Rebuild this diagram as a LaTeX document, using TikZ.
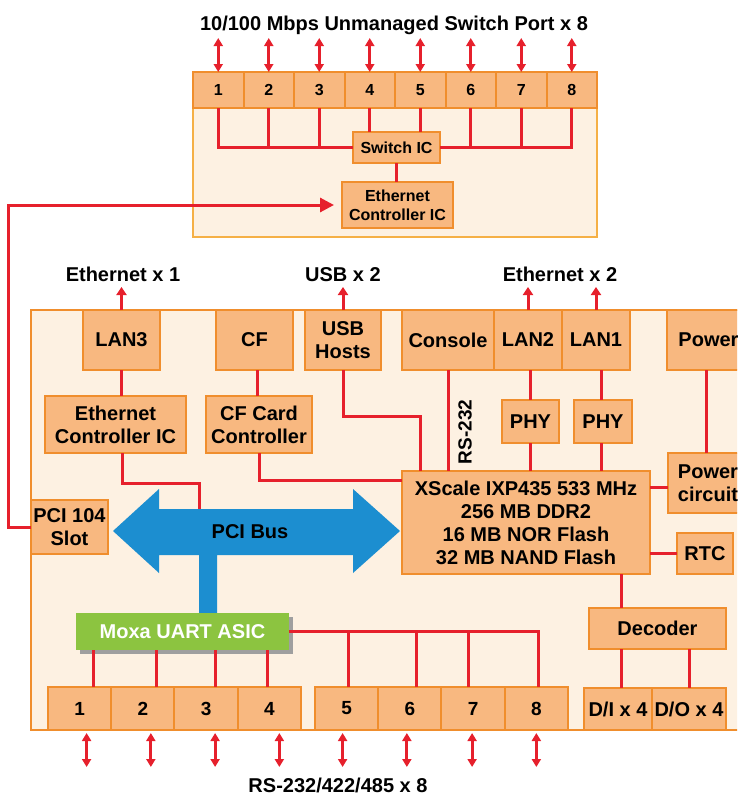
\documentclass[tikz,border=0pt]{standalone}
\usepackage{fontspec}
\setmainfont{Liberation Sans}
\usepackage{xcolor}
\usepackage{tikz}
\usetikzlibrary{arrows.meta,positioning,shadows}

\definecolor{boxfill}{RGB}{248,184,128}
\definecolor{boxline}{RGB}{240,142,45}
\definecolor{boardfill}{RGB}{253,241,226}
\definecolor{wirered}{RGB}{230,32,44}
\definecolor{busblue}{RGB}{28,142,208}
\definecolor{asicgreen}{RGB}{140,196,64}

\newcommand{\bfont}{\fontsize{20}{23}\selectfont\bfseries}
\newcommand{\sfont}{\fontsize{16}{19}\selectfont\bfseries}

\begin{document}
\begin{tikzpicture}[x=1pt, y=-1pt,
  box/.style={draw=boxline, fill=boxfill, line width=2pt, align=center, font=\bfont, inner sep=1pt, outer sep=0pt, minimum height=60pt},
  port/.style={box, font=\sfont, minimum width=50.5pt, minimum height=36pt},
  sport/.style={box, font=\fontsize{19}{22}\selectfont\bfseries, minimum width=63.25pt, minimum height=43pt},
  lbl/.style={font=\bfont, inner sep=0pt},
  asic/.style={font=\bfont, text=white, fill=asicgreen, minimum width=213pt, minimum height=37pt, outer sep=0pt,
    drop shadow={shadow xshift=4pt, shadow yshift=-4pt, fill=gray!75, opacity=1}},
  wire/.style={draw=wirered, line width=3pt},
  arr/.style={wire, -{Triangle[length=8pt,width=10pt]}},
  dbl/.style={wire, {Triangle[length=8pt,width=9pt]}-{Triangle[length=8pt,width=9pt]}}]
\useasboundingbox (0,0) rectangle (737,798);
\clip (0,0) rectangle (737,798);

% switch module
\draw[draw={rgb,255:red,245;green,176;blue,70}, fill=boardfill, line width=1.6pt] (193,72) rectangle (597,237);
\node[lbl, anchor=base] (swtitle) at (394,30) {10/100 Mbps Unmanaged Switch Port x 8};
\node[port] (sp1) at (218.25,90) {1};
\foreach \i [count=\j from 1] in {2,...,8}
  \node[port, right=0pt of sp\j] (sp\i) {\i};
\node[box, font=\sfont, minimum width=87pt, minimum height=31pt] (swic) at (396.5,147.5) {Switch IC};
\node[box, font=\sfont, minimum width=111pt, minimum height=46pt] (ethsw) at (397.5,205) {Ethernet\\Controller IC};

% main board
\draw[boxline, fill=boardfill, line width=2pt] (31,310) rectangle (760,730);
\coordinate (bustop) at (199,509);
\fill[busblue] (113,531) -- (159,489) -- (159,509) -- (353,509) -- (353,489) -- (400,531)
  -- (353,573) -- (353,555) -- (217,555) -- (217,613) -- (199,613) -- (199,555)
  -- (159,555) -- (159,573) -- cycle;
\node[lbl] (bus) at (250,532) {PCI Bus};

\node[box, minimum width=77pt] (lan3) at (121.5,340) {LAN3};
\node[box, minimum width=77pt] (cf) at (254.5,340) {CF};
\node[box, minimum width=76pt] (usb) at (343,340) {USB\\Hosts};
\node[box, minimum width=92pt] (console) at (448,340) {Console};
\node[box, minimum width=68pt, right=0pt of console] (lan2) {LAN2};
\node[box, minimum width=68pt, right=0pt of lan2] (lan1) {LAN1};
\node[box, minimum width=83pt] (power) at (708.5,340) {Power};

\node[box, minimum width=141pt, minimum height=57pt] (ethc) at (115.5,424.5) {Ethernet\\Controller IC};
\node[box, minimum width=106pt, minimum height=57pt] (cfc) at (259,424.5) {CF Card\\Controller};
\node[box, minimum width=57pt, minimum height=43pt] (phy2) at (530.5,421.5) {PHY};
\node[box, minimum width=58pt, minimum height=43pt] (phy1) at (603,421.5) {PHY};
\node[lbl, rotate=90, font=\fontsize{19}{21}\selectfont\bfseries] (rs) at (465,432) {RS-232};

\node[box, minimum width=77pt, minimum height=54pt] (pci104) at (69.5,527) {PCI 104\\Slot};
\node[box, minimum width=248pt, minimum height=103pt] (cpu) at (526,522.5)
  {XScale IXP435 533 MHz\\256 MB DDR2\\16 MB NOR Flash\\32 MB NAND Flash};
\node[box, minimum width=80pt] (pwrc) at (708,483) {Power\\circuit};
\node[box, minimum width=56pt, minimum height=41pt] (rtc) at (705,553.5) {RTC};

\node[asic] (uart) at (182.5,631.5) {Moxa UART ASIC};
\node[box, minimum width=137pt, minimum height=41pt] (decoder) at (657.5,628.5) {Decoder};
\node[box, minimum width=68pt, minimum height=42pt] (din) at (618,709) {D/I x 4};
\node[box, minimum width=74pt, minimum height=42pt, right=0pt of din] (dout) {D/O x 4};

\node[sport] (rp1) at (79.6,708.5) {1};
\foreach \i [count=\j from 1] in {2,3,4}
  \node[sport, right=0pt of rp\j] (rp\i) {\i};
\node[sport] (rp5) at (346.6,708.5) {5};
\foreach \i [count=\j from 5] in {6,7,8}
  \node[sport, right=0pt of rp\j] (rp\i) {\i};

% outside labels
\node[lbl] (eth1) at (123,274.5) {Ethernet x 1};
\node[lbl] (usb2) at (343,274.5) {USB x 2};
\node[lbl] (eth2) at (560,274.5) {Ethernet x 2};
\node[lbl, anchor=base] (rsx8) at (338,792) {RS-232/422/485 x 8};

% switch wiring
\foreach \i in {1,...,8}
  \draw[dbl] (sp\i.north) -- ++(0,-34);
\foreach \i in {1,2,3}
  \draw[wire] (sp\i.south) |- (swic.west);
\foreach \i in {6,7,8}
  \draw[wire] (sp\i.south) |- (swic.east);
\foreach \i in {4,5}
  \draw[wire] (sp\i.south) -- (sp\i.south |- swic.north);
\draw[wire] (swic.south) -- (swic.south |- ethsw.north);
\draw[wire, -{Triangle[length=14pt,width=14pt]}, shorten >=8pt] (pci104.west) -- ++(-23,0) |- (ethsw.west);

% board wiring
\draw[arr] (lan3.north) -- ++(0,-23);
\draw[arr] (usb.north) -- ++(0,-23);
\draw[arr] (lan2.north) -- ++(0,-23);
\draw[arr] (lan1.north) -- ++(0,-23);
\draw[wire] (lan3.south) -- (lan3.south |- ethc.north);
\draw[wire] ([xshift=3pt]cf.south) -- ([xshift=3pt]cf.south |- cfc.north);
\draw[wire] ([xshift=7pt]ethc.south) -- ++(0,30) -| (bustop);
\draw[wire] (cfc.south) |- ([yshift=-9pt]cpu.north west);
\draw[wire] (usb.south) -- ++(0,46) -| ([xshift=-106pt]cpu.north);
\draw[wire] (console.south) -- (console.south |- cpu.north);
\draw[wire] (phy2.north |- lan2.south) -- (phy2.north);
\draw[wire] (phy2.south) -- (phy2.south |- cpu.north);
\draw[wire] ([xshift=-2pt]phy1.north |- lan1.south) -- ([xshift=-2pt]phy1.north);
\draw[wire] ([xshift=-2pt]phy1.south) -- ([xshift=-2pt]phy1.south |- cpu.north);
\draw[wire] ([xshift=-2pt]power.south) -- ([xshift=-2pt]power.south |- pwrc.north);
\draw[wire] ([yshift=-4pt]cpu.east |- pwrc.west) -- ([yshift=-4pt]pwrc.west);
\draw[wire] (cpu.east |- rtc.west) -- (rtc.west);
\draw[wire] ([xshift=95pt]cpu.south) -- ([xshift=95pt]cpu.south |- decoder.north);
\draw[wire] ([xshift=3pt]din.north |- decoder.south) -- ([xshift=3pt]din.north);
\draw[wire] (dout.north |- decoder.south) -- (dout.north);

% serial ports
\foreach \i/\dx in {1/14,2/14,3/9,4/-2}
  \draw[wire] ([xshift=\dx pt]rp\i.north |- uart.south) -- ([xshift=\dx pt]rp\i.north);
\draw[wire] (uart.east) -| ([xshift=2pt]rp8.north);
\foreach \i/\dx in {5/2,6/7,7/-5}
  \draw[wire] ([xshift=\dx pt]rp\i.north |- uart.east) -- ([xshift=\dx pt]rp\i.north);
\foreach \i/\dx in {1/7,2/8,3/9,4/10,5/-4,6/-3,7/-1,8/0}
  \draw[dbl] ([xshift=\dx pt, yshift=-3pt]rp\i.south) -- ++(0,34);
\end{tikzpicture}
\end{document}
